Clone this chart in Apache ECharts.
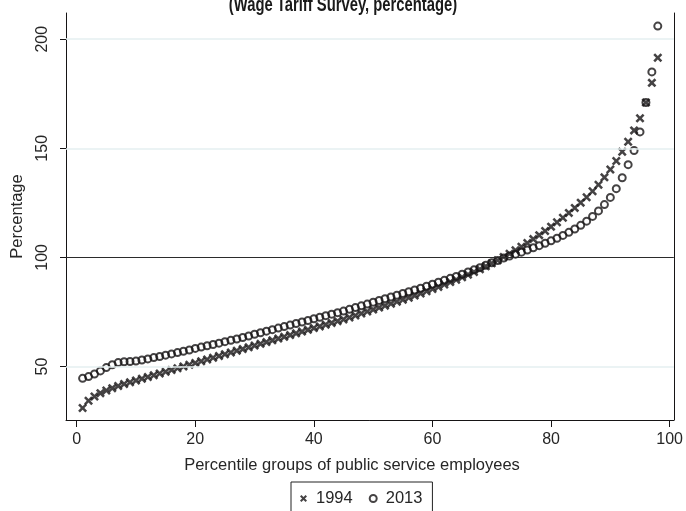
<!DOCTYPE html>
<html>
<head>
<meta charset="utf-8">
<script src="https://cdn.jsdelivr.net/npm/echarts@6/dist/echarts.min.js"></script>
<style>
  html, body { margin: 0; padding: 0; background: #ffffff; }
  #chart { width: 686px; height: 511px; }
</style>
</head>
<body>
<div id="chart"></div>
<script>
// Percentile groups of public service employees
const percentiles = [
  1, 2, 3, 4, 5, 6, 7, 8, 9, 10,
  11, 12, 13, 14, 15, 16, 17, 18, 19, 20,
  21, 22, 23, 24, 25, 26, 27, 28, 29, 30,
  31, 32, 33, 34, 35, 36, 37, 38, 39, 40,
  41, 42, 43, 44, 45, 46, 47, 48, 49, 50,
  51, 52, 53, 54, 55, 56, 57, 58, 59, 60,
  61, 62, 63, 64, 65, 66, 67, 68, 69, 70,
  71, 72, 73, 74, 75, 76, 77, 78, 79, 80,
  81, 82, 83, 84, 85, 86, 87, 88, 89, 90,
  91, 92, 93, 94, 95, 96, 97, 98
];

// Wage level of each group as a percentage, 1994
const wages1994 = [
  31.0, 34.3, 36.3, 37.8, 39.0, 40.1, 41.1, 42.0, 42.8, 43.6,
  44.4, 45.2, 46.0, 46.8, 47.6, 48.4, 49.2, 50.0, 50.8, 51.6,
  52.4, 53.2, 54.0, 54.8, 55.6, 56.4, 57.2, 58.0, 58.8, 59.6,
  60.4, 61.2, 62.0, 62.8, 63.6, 64.4, 65.2, 66.0, 66.8, 67.6,
  68.4, 69.2, 70.0, 70.8, 71.6, 72.5, 73.4, 74.3, 75.2, 76.1,
  77.0, 77.9, 78.8, 79.7, 80.6, 81.5, 82.5, 83.5, 84.5, 85.5,
  86.5, 87.6, 88.7, 89.8, 90.9, 92.1, 93.3, 94.6, 95.9, 97.3,
  98.7, 100.2, 101.7, 103.3, 104.9, 106.6, 108.4, 110.2, 112.1, 114.1,
  116.1, 118.2, 120.4, 122.7, 125.1, 127.6, 130.3, 133.3, 136.7, 140.3,
  144.2, 148.4, 153.0, 158.2, 163.8, 171.0, 180.0, 191.5
];

// Wage level of each group as a percentage, 2013
const wages2013 = [
  44.6, 45.4, 46.6, 48.0, 49.5, 50.8, 51.8, 52.2, 52.3, 52.5,
  53.0, 53.5, 54.1, 54.6, 55.2, 55.8, 56.4, 57.0, 57.6, 58.3,
  58.9, 59.5, 60.1, 60.7, 61.4, 62.0, 62.6, 63.3, 64.0, 64.8,
  65.5, 66.2, 66.9, 67.6, 68.3, 69.0, 69.7, 70.4, 71.1, 71.9,
  72.6, 73.3, 74.0, 74.7, 75.4, 76.2, 77.0, 77.8, 78.6, 79.5,
  80.3, 81.1, 81.9, 82.7, 83.5, 84.3, 85.1, 85.9, 86.8, 87.7,
  88.6, 89.5, 90.4, 91.3, 92.3, 93.3, 94.3, 95.3, 96.4, 97.5,
  98.6, 99.7, 100.6, 101.5, 102.4, 103.4, 104.4, 105.4, 106.5, 107.6,
  108.8, 110.1, 111.5, 113.0, 114.7, 116.6, 118.8, 121.3, 124.2, 127.5,
  131.5, 136.5, 142.5, 149.0, 157.5, 171.0, 185.0, 206.0
];

const seriesNames = ['1994', '2013'];
const xTickValues = [0, 20, 40, 60, 80, 100];
const yTickValues = [50, 100, 150, 200];
const gridLevels = [50, 150, 200];
const referenceLevel = 100;

const INK = '#161415';
const TEXT = '#262626';
const LABEL_FONT = "'Liberation Sans', Arial, sans-serif";
// Filled diagonal cross used as the 1994 marker
const CROSS = 'path://M0,2L2,0L5,3L8,0L10,2L7,5L10,8L8,10L5,7L2,10L0,8L3,5Z';

const pairs = (ys) => percentiles.map((p, i) => [p, ys[i]]);

const chart = echarts.init(document.getElementById('chart'), null, { renderer: 'canvas' });

chart.setOption({
  animation: false,
  backgroundColor: '#ffffff',
  graphic: [
    {
      // condensed bold subtitle, clipped by the top edge
      type: 'text',
      x: 343,
      y: 5,
      scaleX: 0.74,
      silent: true,
      style: {
        text: '(Wage Tariff Survey, percentage)',
        font: "bold 20px 'Liberation Sans', Arial, sans-serif",
        textAlign: 'center',
        textVerticalAlign: 'middle',
        fill: '#1a1a1a'
      }
    },
    {
      type: 'text',
      x: 352,
      y: 465,
      silent: true,
      style: {
        text: 'Percentile groups of public service employees',
        font: "16.5px 'Liberation Sans', Arial, sans-serif",
        textAlign: 'center',
        textVerticalAlign: 'middle',
        fill: TEXT
      }
    }
  ],
  grid: { left: 66, right: 5, top: 13, bottom: 91, containLabel: false },
  legend: {
    left: 291,
    top: 482,
    orient: 'horizontal',
    borderColor: '#222',
    borderWidth: 1,
    borderRadius: 0,
    padding: [8, 10, 40, 9],
    itemGap: 16,
    itemWidth: 7,
    itemHeight: 7,
    textStyle: { fontFamily: LABEL_FONT, fontSize: 16.5, color: TEXT, padding: [0, 0, 0, 4] },
    data: [
      { name: seriesNames[0], icon: CROSS },
      { name: seriesNames[1], icon: 'circle' }
    ]
  },
  xAxis: {
    type: 'value',
    min: -1.8,
    max: 100.7,
    axisLine: { show: true, onZero: false, lineStyle: { color: INK, width: 1 } },
    axisTick: { show: true, length: 7, customValues: xTickValues, lineStyle: { color: INK, width: 1 } },
    axisLabel: { customValues: xTickValues, fontFamily: LABEL_FONT, fontSize: 16, color: TEXT, margin: 12 },
    splitLine: { show: false }
  },
  yAxis: [
    {
      type: 'value',
      min: 25.5,
      max: 212,
      name: 'Percentage',
      nameLocation: 'middle',
      nameGap: 40,
      nameTextStyle: { fontFamily: LABEL_FONT, fontSize: 16.5, color: TEXT },
      axisLine: { show: true, onZero: false, lineStyle: { color: INK, width: 1 } },
      axisTick: { show: true, length: 6, customValues: yTickValues, lineStyle: { color: INK, width: 1 } },
      axisLabel: { customValues: yTickValues, rotate: 90, fontFamily: LABEL_FONT, fontSize: 16, color: TEXT, margin: 15 },
      splitLine: { show: false }
    },
    {
      type: 'value',
      position: 'right',
      min: 25.5,
      max: 212,
      axisLine: { show: true, onZero: false, lineStyle: { color: INK, width: 1 } },
      axisTick: { show: false },
      axisLabel: { show: false },
      splitLine: { show: false }
    }
  ],
  series: [
    {
      // gridlines and the 100 % reference line, kept beneath the markers
      type: 'scatter',
      data: [],
      z: 1,
      silent: true,
      markLine: {
        silent: true,
        symbol: 'none',
        label: { show: false },
        data: gridLevels.map(v => ({ yAxis: v, lineStyle: { color: '#e4eff1', width: 1.5, type: 'solid' } }))
          .concat([{ yAxis: referenceLevel, lineStyle: { color: '#2b2b2b', width: 1.2, type: 'solid' } }])
      }
    },
    {
      name: seriesNames[0],
      type: 'scatter',
      data: pairs(wages1994),
      symbol: CROSS,
      symbolSize: 9,
      z: 3,
      itemStyle: { color: INK }
    },
    {
      name: seriesNames[1],
      type: 'scatter',
      data: pairs(wages2013),
      symbol: 'circle',
      symbolSize: 7,
      z: 4,
      itemStyle: { color: 'rgba(255,255,255,0)', borderColor: INK, borderWidth: 2 }
    }
  ]
});
</script>
</body>
</html>
